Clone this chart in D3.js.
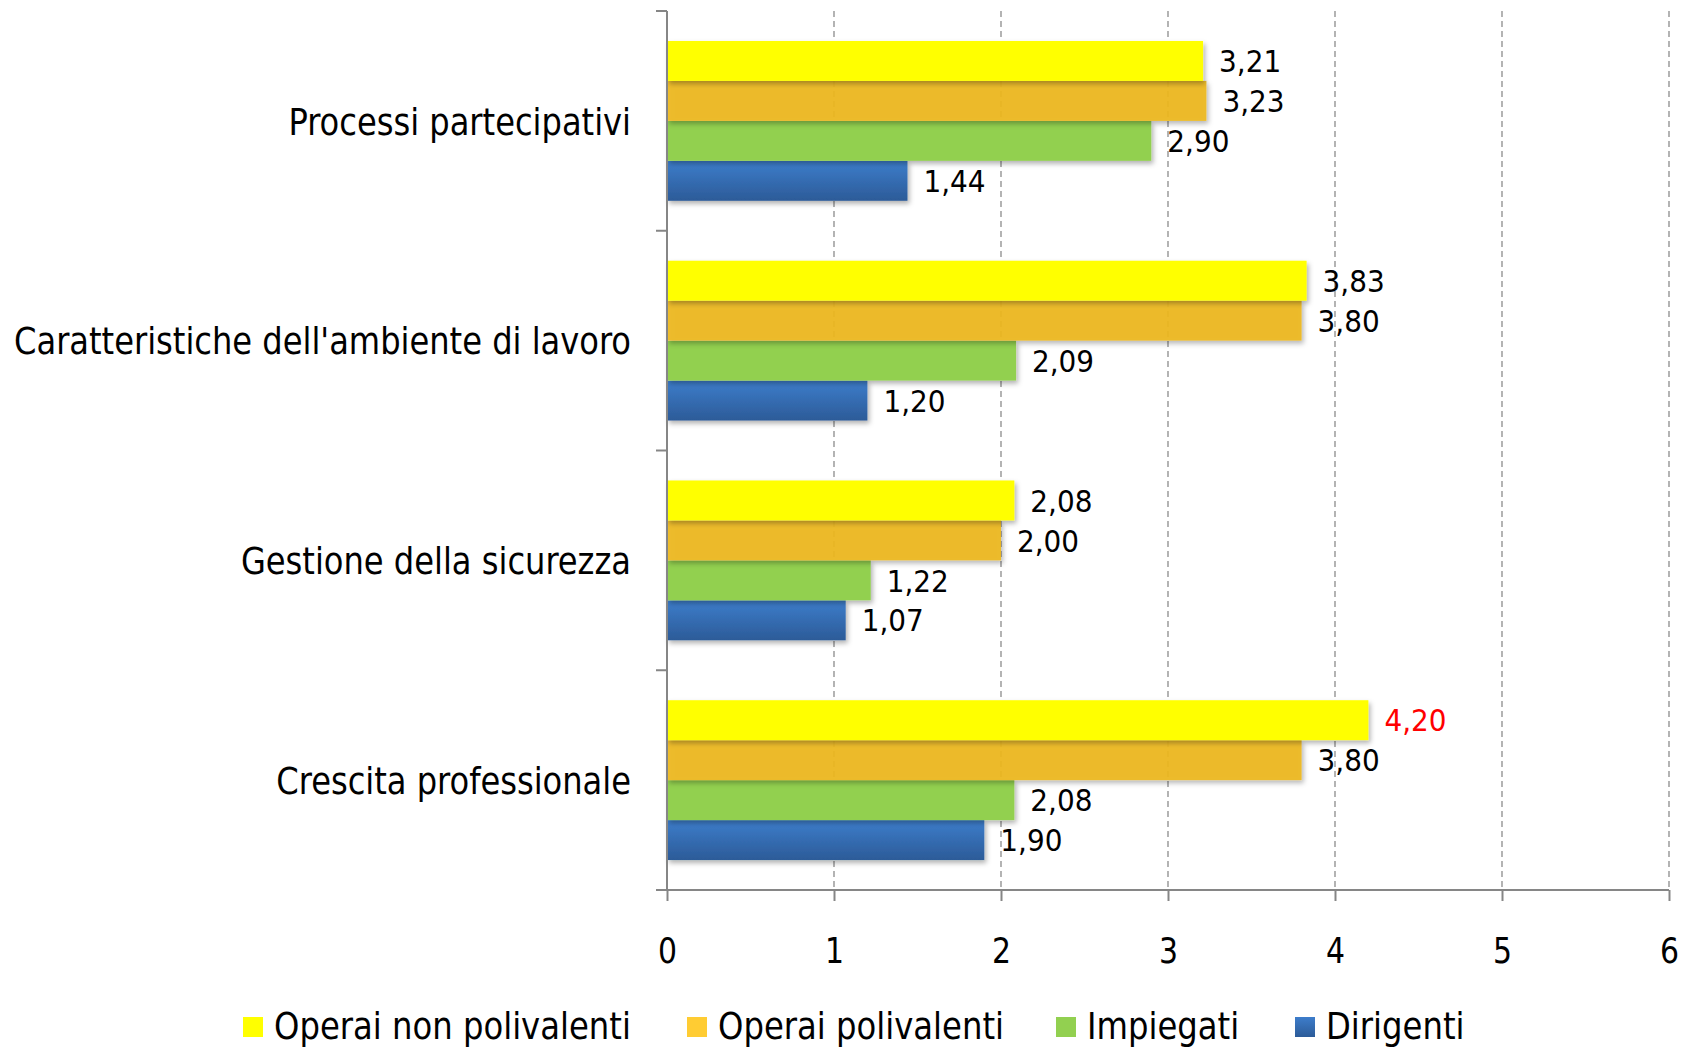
<!DOCTYPE html>
<html>
<head>
<meta charset="utf-8">
<script src="https://cdn.jsdelivr.net/npm/d3@7"></script>
<style>
  body { margin: 0; background: #fff; }
  svg text { font-family: "DejaVu Sans Condensed", "DejaVu Sans", sans-serif; fill: #000; }
</style>
</head>
<body>
<svg id="chart" width="1696" height="1049"></svg>
<script>
// categories, top to bottom
const categories = [
  'Processi partecipativi',
  "Caratteristiche dell'ambiente di lavoro",
  'Gestione della sicurezza',
  'Crescita professionale',
];

// series, in drawing order inside each group (top to bottom)
const seriesNames = ['Operai non polivalenti', 'Operai polivalenti', 'Impiegati', 'Dirigenti'];

const operaiNonPolivalenti = [3.21, 3.83, 2.08, 4.20];
const operaiPolivalenti = [3.23, 3.80, 2.00, 3.80];
const impiegati = [2.90, 2.09, 1.22, 2.08];
const dirigenti = [1.44, 1.20, 1.07, 1.90];

const xTicks = [0, 1, 2, 3, 4, 5, 6];

const seriesValues = [operaiNonPolivalenti, operaiPolivalenti, impiegati, dirigenti];

const svg = d3.select('#chart');

// Plot area
const plotLeft = 667;
const plotRight = 1669;
const plotTop = 11;
const plotBottom = 890;

const xScale = d3.scaleLinear().domain([0, 6]).range([plotLeft, plotRight]);
const yScale = d3.scaleBand().domain(categories).range([plotTop, plotBottom]).padding(0);
// bars inside a group: Excel gap width 150% -> 0.75 bar on each side
const ySub = d3.scaleBand().domain(seriesNames).range([0, yScale.bandwidth()])
  .paddingInner(0).paddingOuter(0.75);

// The original font is a tall, narrow sans: squeeze the text a little horizontally
function placeText(sel, x, y, sx) {
  sel.attr('transform', `translate(${x},${y}) scale(${sx},1)`);
}

const defs = svg.append('defs');

// blue bar gradient
const blueGrad = defs.append('linearGradient')
  .attr('id', 'blue-grad')
  .attr('x1', 0).attr('y1', 0).attr('x2', 0).attr('y2', 1);
blueGrad.append('stop').attr('offset', '0%').attr('stop-color', '#3D7DCB');
blueGrad.append('stop').attr('offset', '100%').attr('stop-color', '#2C5B98');

// soft drop shadow under the bars
const shadow = defs.append('filter')
  .attr('id', 'shadow')
  .attr('x', '-5%').attr('y', '-20%')
  .attr('width', '115%').attr('height', '160%');
shadow.append('feDropShadow')
  .attr('dx', 2).attr('dy', 3)
  .attr('stdDeviation', 2.5)
  .attr('flood-color', '#000')
  .attr('flood-opacity', 0.3);

const barStyles = [
  { fill: '#FFFF00', opacity: 1 },
  { fill: '#EEB91C', opacity: 0.92 },
  { fill: '#92D050', opacity: 1 },
  { fill: 'url(#blue-grad)', opacity: 1 },
];
const legendColors = ['#FFFF00', '#FFCC33', '#92D050', 'url(#blue-grad)'];

// Vertical dashed gridlines
svg.append('g')
  .attr('class', 'grid')
  .selectAll('line')
  .data(xTicks.filter((d) => d > 0))
  .enter()
  .append('line')
  .attr('x1', (d) => xScale(d))
  .attr('x2', (d) => xScale(d))
  .attr('y1', plotTop)
  .attr('y2', plotBottom)
  .attr('stroke', '#8c8c8c')
  .attr('stroke-width', 1.3)
  .attr('stroke-dasharray', '6,4');

// Bars
const groups = svg.append('g')
  .attr('class', 'bars')
  .selectAll('g')
  .data(categories)
  .enter()
  .append('g')
  .attr('transform', (d) => `translate(0,${yScale(d)})`);

groups.each(function (cat, ci) {
  const g = d3.select(this);
  // bottom bar first, so the shadow of each bar lands on the one below it
  for (let si = seriesNames.length - 1; si >= 0; si -= 1) {
    g.append('rect')
      .attr('x', xScale(0))
      .attr('y', ySub(seriesNames[si]))
      .attr('width', xScale(seriesValues[si][ci]) - xScale(0))
      .attr('height', ySub.bandwidth())
      .attr('fill', barStyles[si].fill)
      .attr('fill-opacity', barStyles[si].opacity)
      .attr('filter', 'url(#shadow)');
  }
  // value labels
  seriesNames.forEach((name, si) => {
    const v = seriesValues[si][ci];
    g.append('text')
      .attr('x', xScale(v) + 16)
      .attr('y', ySub(name) + ySub.bandwidth() / 2)
      .attr('dy', '0.36em')
      .attr('font-size', 31)
      .style('fill', v === 4.20 ? '#FF0000' : '#000')
      .text(d3.format('.2f')(v).replace('.', ','));
  });
});

// Y axis (category) with outer ticks at band boundaries
const axisColor = '#868686';
svg.append('line')
  .attr('x1', plotLeft).attr('x2', plotLeft)
  .attr('y1', plotTop).attr('y2', plotBottom)
  .attr('stroke', axisColor).attr('stroke-width', 2);

const boundaries = categories.map((c) => yScale(c)).concat([plotBottom]);
svg.append('g')
  .selectAll('line')
  .data(boundaries)
  .enter()
  .append('line')
  .attr('x1', plotLeft - 11).attr('x2', plotLeft)
  .attr('y1', (d) => d).attr('y2', (d) => d)
  .attr('stroke', axisColor).attr('stroke-width', 2);

svg.append('g')
  .selectAll('text')
  .data(categories)
  .enter()
  .append('text')
  .attr('dy', '0.36em')
  .attr('text-anchor', 'end')
  .attr('font-size', 38)
  .text((d) => d)
  .each(function (d) {
    placeText(d3.select(this), 631, yScale(d) + yScale.bandwidth() / 2, 0.94);
  });

// X axis
const xAxis = d3.axisBottom(xScale)
  .tickValues(xTicks)
  .tickSize(11)
  .tickPadding(0)
  .tickFormat(d3.format('d'));

const xAxisG = svg.append('g')
  .attr('transform', `translate(0,${plotBottom})`)
  .call(xAxis);

xAxisG.attr('font-family', null);
xAxisG.select('.domain').remove();
xAxisG.append('line')
  .attr('x1', plotLeft - 11).attr('x2', plotRight)
  .attr('stroke', axisColor).attr('stroke-width', 2);
xAxisG.selectAll('.tick line').attr('stroke', axisColor).attr('stroke-width', 2);
xAxisG.selectAll('.tick text')
  .attr('font-size', 35)
  .attr('y', 0)
  .attr('dy', '0.36em')
  .style('fill', '#000')
  .each(function () {
    placeText(d3.select(this), 0, 60, 0.95);
  });

// Legend
const legendX = [243, 687, 1056, 1295];
const legendY = 1026;
const legend = svg.append('g')
  .selectAll('g')
  .data(seriesNames)
  .enter()
  .append('g')
  .attr('transform', (d, i) => `translate(${legendX[i]},${legendY})`);

legend.append('rect')
  .attr('x', 0).attr('y', -9)
  .attr('width', 20).attr('height', 20)
  .attr('fill', (d, i) => legendColors[i]);

legend.append('text')
  .attr('dy', '0.36em')
  .attr('font-size', 37)
  .text((d) => d)
  .each(function () {
    placeText(d3.select(this), 31, 0, 0.97);
  });
</script>
</body>
</html>
